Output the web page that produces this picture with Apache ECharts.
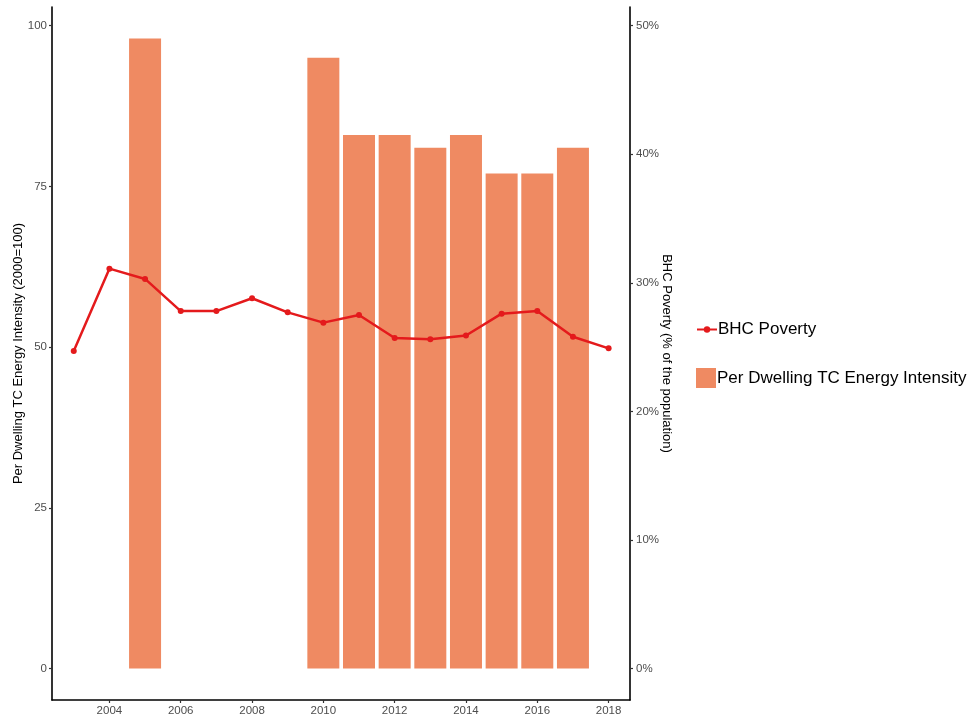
<!DOCTYPE html>
<html>
<head>
<meta charset="utf-8">
<script src="https://cdn.jsdelivr.net/npm/echarts@6/dist/echarts.min.js"></script>
<style>
  html, body { margin: 0; padding: 0; background: #fff; }
  #chart { width: 976px; height: 717px; }
</style>
</head>
<body>
<div id="chart"></div>
<script>
// Energy intensity per dwelling (index, 2000 = 100)
const barYears = [2005, 2010, 2011, 2012, 2013, 2014, 2015, 2016, 2017];
const barValues = [98, 95, 83, 83, 81, 83, 77, 77, 81];

// BHC poverty rate (% of the population)
const lineYears = [2003, 2004, 2005, 2006, 2007, 2008, 2009, 2010, 2011, 2012, 2013, 2014, 2015, 2016, 2017, 2018];
const lineValues = [24.7, 31.1, 30.3, 27.8, 27.8, 28.8, 27.7, 26.9, 27.5, 25.7, 25.6, 25.9, 27.6, 27.8, 25.8, 24.9];

const xTicks = [2004, 2006, 2008, 2010, 2012, 2014, 2016, 2018];
const leftTicks = [0, 25, 50, 75, 100];
const rightTicks = [0, 10, 20, 30, 40, 50];

const FONT = '"Liberation Sans", Arial, sans-serif';
const BAR_COLOR = '#EF8A62';
const LINE_COLOR = '#E41A1C';

const axisLineStyle = { show: true, lineStyle: { color: '#000', width: 1.6 } };
const tickStyle = { show: true, length: 3, lineStyle: { color: '#333', width: 1.2 } };
const tickLabel = { color: '#4D4D4D', fontSize: 11.5, fontFamily: FONT };

const chart = echarts.init(document.getElementById('chart'));
chart.setOption({
  animation: false,
  backgroundColor: '#fff',
  grid: { left: 52, right: 346, top: 7, bottom: 17, containLabel: false, outerBoundsMode: 'none' },
  legend: [
    {
      data: [{ name: 'BHC Poverty' }],
      orient: 'vertical', left: 696, top: 321,
      itemWidth: 20, itemHeight: 8, padding: 0,
      textStyle: { fontSize: 17, fontFamily: FONT, color: '#000', padding: [0, 0, 0, -4] }
    },
    {
      data: [{ name: 'Per Dwelling TC Energy Intensity', icon: 'rect' }],
      orient: 'vertical', left: 696, top: 368,
      itemWidth: 20, itemHeight: 20, padding: 0,
      textStyle: { fontSize: 17, fontFamily: FONT, color: '#000', padding: [0, 0, 0, -4] }
    }
  ],
  xAxis: {
    type: 'value',
    min: 2002.39, max: 2018.6,
    axisLine: { show: true, onZero: false, lineStyle: { color: '#000', width: 1.6 } },
    axisTick: Object.assign({}, tickStyle, { customValues: xTicks }),
    axisLabel: Object.assign({}, tickLabel, { customValues: xTicks, margin: 5, formatter: v => String(v) }),
    splitLine: { show: false }
  },
  yAxis: [
    {
      type: 'value',
      position: 'left',
      min: -4.9, max: 102.9,
      name: 'Per Dwelling TC Energy Intensity (2000=100)',
      nameLocation: 'middle', nameRotate: 90, nameGap: 27, nameMoveOverlap: false,
      nameTextStyle: { fontSize: 13, fontFamily: FONT, color: '#000' },
      axisLine: axisLineStyle,
      axisTick: Object.assign({}, tickStyle, { customValues: leftTicks }),
      axisLabel: Object.assign({}, tickLabel, { customValues: leftTicks, margin: 5 }),
      splitLine: { show: false }
    },
    {
      type: 'value',
      position: 'right',
      min: -2.45, max: 51.45,
      name: 'BHC Poverty (% of the population)',
      nameLocation: 'middle', nameRotate: -90, nameGap: 30, nameMoveOverlap: false,
      nameTextStyle: { fontSize: 13, fontFamily: FONT, color: '#000' },
      axisLine: axisLineStyle,
      axisTick: Object.assign({}, tickStyle, { customValues: rightTicks }),
      axisLabel: Object.assign({}, tickLabel, { customValues: rightTicks, margin: 6, formatter: '{value}%' }),
      splitLine: { show: false }
    }
  ],
  series: [
    {
      name: 'Per Dwelling TC Energy Intensity',
      type: 'bar',
      yAxisIndex: 0,
      barWidth: 32,
      itemStyle: { color: BAR_COLOR },
      data: barYears.map((y, i) => [y, barValues[i]]),
      z: 1
    },
    {
      name: 'BHC Poverty',
      type: 'line',
      yAxisIndex: 1,
      symbol: 'circle',
      symbolSize: 6,
      lineStyle: { color: LINE_COLOR, width: 2.5 },
      itemStyle: { color: LINE_COLOR },
      data: lineYears.map((y, i) => [y, lineValues[i]]),
      z: 3
    }
  ]
});
</script>
</body>
</html>
